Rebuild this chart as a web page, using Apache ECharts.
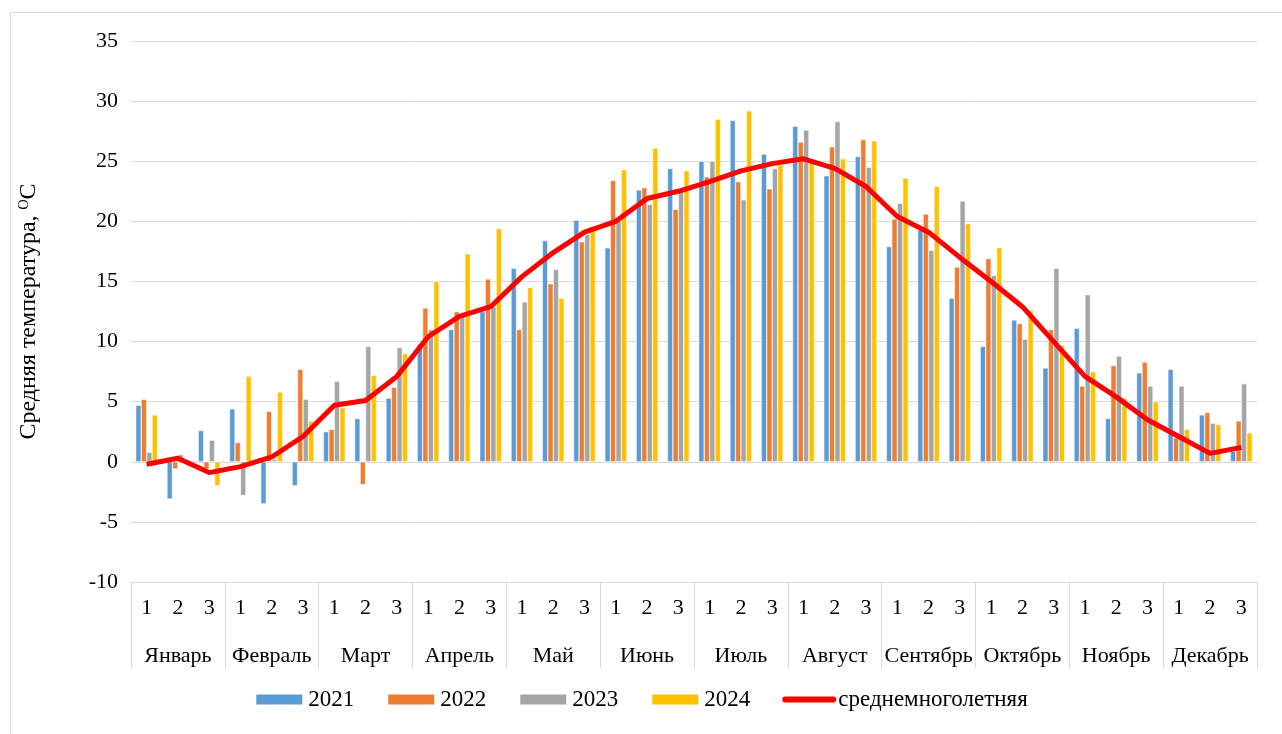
<!DOCTYPE html>
<html style="height: 100%">
<head>
  <meta charset="utf-8" />
  <title>Средняя температура по декадам</title>
  <script src="https://cdn.jsdelivr.net/npm/echarts@6.0.0/dist/echarts.min.js"></script>
</head>
<body style="height: 100%; margin: 0">
  <div id="chart" style="width: 1282px; height: 734px"></div>
  <script>
    const months = ['Январь', 'Февраль', 'Март', 'Апрель', 'Май', 'Июнь',
      'Июль', 'Август', 'Сентябрь', 'Октябрь', 'Ноябрь', 'Декабрь'];
    const decades = [];
    months.forEach(() => decades.push('1', '2', '3'));

    const t2021 = [4.7, -3.1, 2.6, 4.4, -3.5, -2.0, 2.5, 3.6, 5.3, 9.8, 11.0, 12.5,
      16.1, 18.4, 20.1, 17.8, 22.6, 24.4, 25.0, 28.4, 25.6, 27.9, 23.8, 25.4,
      17.9, 19.3, 13.6, 9.6, 11.8, 7.8, 11.1, 3.6, 7.4, 7.7, 3.9, 0.9];
    const t2022 = [5.2, -0.6, -0.6, 1.6, 4.2, 7.7, 2.7, -1.9, 6.2, 12.8, 12.5, 15.2,
      11.0, 14.8, 18.3, 23.4, 22.8, 21.0, 23.7, 23.3, 22.7, 26.6, 26.2, 26.8,
      20.2, 20.6, 16.2, 16.9, 11.5, 11.0, 6.3, 8.0, 8.3, 2.0, 4.1, 3.4];
    const t2023 = [0.8, 0.6, 1.8, -2.8, 0.2, 5.2, 6.7, 9.6, 9.5, 11.0, 12.1, 12.9,
      13.3, 16.0, 18.9, 20.1, 21.4, 22.5, 25.0, 21.8, 24.4, 27.6, 28.3, 24.5,
      21.5, 17.6, 21.7, 15.5, 10.2, 16.1, 13.9, 8.8, 6.3, 6.3, 3.2, 6.5];
    const t2024 = [3.9, 0.1, -2.0, 7.1, 5.8, 3.4, 4.5, 7.2, 9.0, 15.0, 17.3, 19.4,
      14.5, 13.6, 19.3, 24.3, 26.1, 24.2, 28.5, 29.2, 24.7, 25.2, 25.2, 26.7,
      23.6, 22.9, 19.8, 17.8, 12.6, 9.7, 7.5, 5.3, 5.0, 2.7, 3.1, 2.4];
    const tNorm = [-0.2, 0.3, -0.9, -0.4, 0.4, 2.1, 4.7, 5.1, 7.1, 10.4, 12.1, 12.9,
      15.4, 17.4, 19.1, 20.0, 21.9, 22.5, 23.3, 24.2, 24.8, 25.2, 24.4, 22.9,
      20.4, 19.1, 17.0, 15.0, 12.9, 10.0, 7.1, 5.4, 3.5, 2.1, 0.7, 1.2];

    const font = 'Liberation Serif, Times New Roman, serif';
    const fs = 22;
    const chart = echarts.init(document.getElementById('chart'));

    function bar(name, data, color) {
      return {
        name: name,
        type: 'bar',
        data: data,
        barGap: '0%',
        barCategoryGap: '30%',
        itemStyle: { color: color, borderColor: '#fff', borderWidth: 0.5 }
      };
    }

    chart.setOption({
      backgroundColor: '#fff',
      animation: false,
      textStyle: { fontFamily: font, color: '#000' },
      graphic: [{
        type: 'rect',
        shape: { x: 10.5, y: 12.5, width: 1290, height: 740 },
        style: { fill: 'none', stroke: '#d9d9d9', lineWidth: 1 },
        silent: true
      }],
      grid: { left: 131, right: 25, top: 41, bottom: 152, containLabel: false },
      legend: {
        bottom: 18,
        left: 'center',
        itemWidth: 48,
        itemHeight: 12,
        itemGap: 32,
        textStyle: { fontFamily: font, fontSize: 23, color: '#000' },
        data: [
          { name: '2021', icon: 'rect' },
          { name: '2022', icon: 'rect' },
          { name: '2023', icon: 'rect' },
          { name: '2024', icon: 'rect' },
          { name: 'среднемноголетняя', itemStyle: { opacity: 0 }, lineStyle: { width: 6, cap: 'round' } }
        ]
      },
      xAxis: [
        {
          type: 'category',
          data: decades,
          position: 'bottom',
          axisLine: { lineStyle: { color: '#d9d9d9' } },
          axisTick: { show: false },
          axisLabel: { fontFamily: font, fontSize: fs, color: '#000', margin: 15, interval: 0 }
        },
        {
          type: 'category',
          data: months,
          position: 'bottom',
          axisLine: { show: false },
          axisTick: { show: true, length: 86, lineStyle: { color: '#d9d9d9' } },
          axisLabel: { fontFamily: font, fontSize: fs, color: '#000', margin: 63, interval: 0 }
        }
      ],
      yAxis: {
        type: 'value',
        min: -10,
        max: 35,
        interval: 5,
        name: 'Средняя температура, ᴼС',
        nameLocation: 'middle',
        nameGap: 90,
        nameTextStyle: { fontFamily: font, fontSize: 24, color: '#000' },
        axisLine: { show: false },
        axisTick: { show: false },
        axisLabel: { fontFamily: font, fontSize: fs, color: '#000', margin: 13 },
        splitLine: { lineStyle: { color: '#d9d9d9', width: 1 } }
      },
      series: [
        bar('2021', t2021, '#5B9BD5'),
        bar('2022', t2022, '#ED7D31'),
        bar('2023', t2023, '#A5A5A5'),
        bar('2024', t2024, '#FFC000'),
        {
          name: 'среднемноголетняя',
          type: 'line',
          data: tNorm,
          symbol: 'none',
          z: 5,
          lineStyle: { color: '#FF0000', width: 5 },
          itemStyle: { color: '#FF0000' }
        }
      ]
    });
  </script>
</body>
</html>
